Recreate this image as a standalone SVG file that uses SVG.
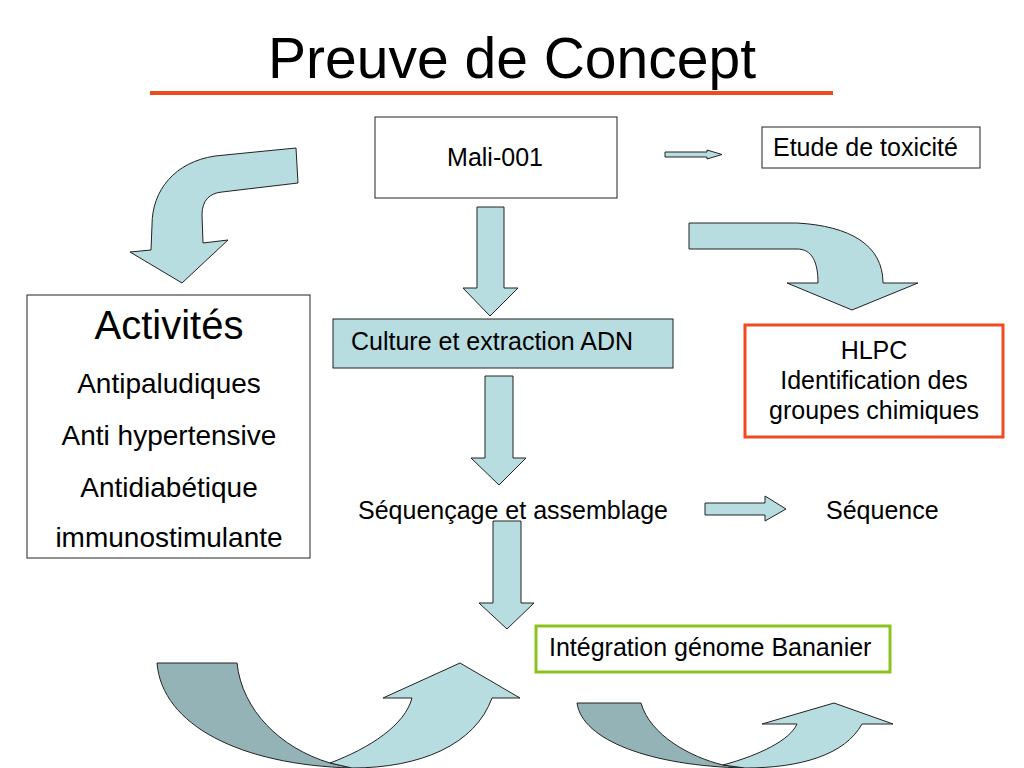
<svg xmlns="http://www.w3.org/2000/svg" width="1024" height="768" viewBox="0 0 1024 768">
<style>
text{font-family:"Liberation Sans",Arial,sans-serif;fill:#000}
.t20{font-size:25px}
.t22{font-size:28px}
.arr{fill:#B7DDE0;stroke:#222;stroke-width:1}
.dark{fill:#93B3B6;stroke:#222;stroke-width:1}
.box{fill:#fff;stroke:#222;stroke-width:1}
</style>
<rect width="1024" height="768" fill="#fff"/>
<text x="512" y="78" font-size="57" text-anchor="middle">Preuve de Concept</text>
<line x1="150" y1="93" x2="833" y2="93" stroke="#F04A20" stroke-width="4"/>

<g id="mali">
<rect class="box" x="375" y="117" width="242" height="81"/>
<text class="t20" x="495" y="166" text-anchor="middle">Mali-001</text>
</g>
<g id="culture">
<rect class="arr" x="333" y="319" width="340" height="49"/>
<text class="t20" x="351" y="350">Culture et extraction ADN</text>
</g>
<g id="sequencage">
<text class="t20" x="358" y="519">Séquençage et assemblage</text>
</g>
<g id="sequence">
<text class="t20" x="826" y="519">Séquence</text>
</g>
<g id="integration">
<rect x="536" y="626" width="354" height="46" fill="#fff" stroke="#8CC21E" stroke-width="3"/>
<text class="t20" x="549" y="656">Intégration génome Bananier</text>
</g>
<g id="toxicite">
<rect class="box" x="762" y="127" width="218" height="41"/>
<text class="t20" x="773" y="156">Etude de toxicité</text>
</g>
<g id="hlpc">
<rect x="745" y="325" width="258" height="112" fill="#fff" stroke="#F04A20" stroke-width="3"/>
<text class="t20" x="874" y="359" text-anchor="middle">HLPC</text>
<text class="t20" x="874" y="389" text-anchor="middle">Identification des</text>
<text class="t20" x="874" y="419" text-anchor="middle">groupes chimiques</text>
</g>
<g id="activites">
<rect class="box" x="27" y="295" width="283" height="263"/>
<text x="169" y="339" font-size="40" text-anchor="middle">Activités</text>
<text class="t22" x="169" y="393" text-anchor="middle">Antipaludiques</text>
<text class="t22" x="169" y="445" text-anchor="middle">Anti hypertensive</text>
<text class="t22" x="169" y="497" text-anchor="middle">Antidiabétique</text>
<text class="t22" x="169" y="547" text-anchor="middle">immunostimulante</text>
</g>

<g id="connectors">
<path class="arr" d="M477,207 L504,207 L504,288 L518,288 L490,316 L463,288 L477,288 Z"/>
<path class="arr" d="M485,376 L513,376 L513,458 L526,458 L499,485 L471,458 L485,458 Z"/>
<path class="arr" d="M493,521 L521,521 L521,603 L534,603 L507,629 L479,603 L493,603 Z"/>
<path class="arr" d="M705,503 L765,503 L765,496 L786,509 L765,521 L765,515 L705,515 Z"/>
<path class="arr" d="M665,152 L707,152 L707,150 L722,154.5 L707,159 L707,157 L665,157 Z"/>
<path class="arr" d="M296,148 L215,156 C175,162 152,190 152,225 L151,250 L130,252 L182,283 L228,240 L203,243 L202,215 C202,200 210,193 222,192 L298,183 Z"/>
<path class="arr" d="M689,223 L797,223 C850,226 883,245 883,283 L918,283 L852,310 L787,283 L818,283 C818,262 812,249 797,249 L689,249 Z"/>
<path class="dark" d="M157,663 L237,663 C242,710 280,748 330,763 L352,768 C240,765 162,725 157,663 Z"/>
<path class="arr" d="M330,763 C370,748 405,725 412,698 L383,698 L460,663 L520,698 L492,698 C475,745 420,768 352,768 Z"/>
<path class="dark" d="M577,703 L641,703 C650,735 690,757 723,765 L745,768 C650,766 582,740 577,703 Z"/>
<path class="arr" d="M723,765 C760,755 790,740 797,724 L762,724 L834,703 L893,724 L862,724 C845,755 800,768 745,768 Z"/>
</g>
</svg>
